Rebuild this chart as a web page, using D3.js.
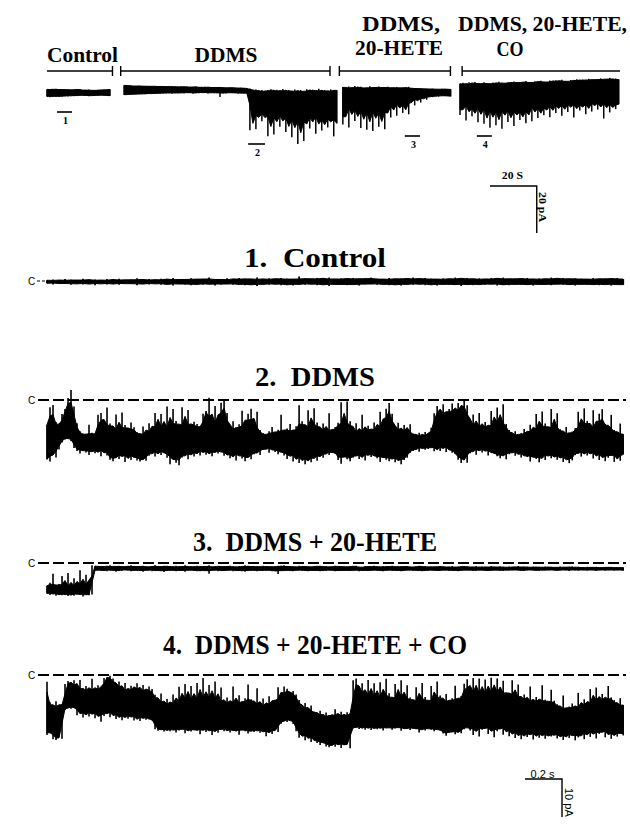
<!DOCTYPE html>
<html><head><meta charset="utf-8">
<script src="https://cdn.jsdelivr.net/npm/d3@7"></script>
<style>html,body{margin:0;padding:0;background:#fff}svg{display:block}</style>
</head><body>
<svg id="fig" width="630" height="825"></svg>
<script>
// ---------------- DATA ----------------
const topLabels = [["Control"], ["DDMS"], ["DDMS,", "20-HETE"], ["DDMS, 20-HETE,", "CO"]];
const segStart = [0, 33, 126.5, 176.6];
const topDt = 1.28;
const bracketRanges = [[0, 28], [31.5, 121], [125, 172.5], [177.5, 245]];
const markerRanges = [[4.3, 10.7], [86, 93.2], [153, 159.5], [183.8, 190.2]];
const markerNames = ["1", "2", "3", "4"];
const topScaleBar = {t: 189.4, sec: 20, pA: 20};

const ctrlTop = [0.6,0.4,0.7,0.3,0.5,0.8,0.4,0.6,0.9,0.5,
  0.7,0.4,0.8,1.0,0.6,0.9,1.1,0.7,0.9,0.6,
  0.8,0.5];
const ctrlBot = [3.6,3.9,3.4,3.8,3.5,3.7,3.3,3.6,3.2,3.5,
  3.1,3.4,3.0,3.3,3.5,3.1,3.4,3.2,3.0,3.3,
  3.1,3.4];
const ddmsTop = [-1.2,-1.0,-1.1,-0.9,-0.8,-1.0,-0.9,-0.7,-0.8,-0.9,
  -0.6,-0.9,-0.7,-0.6,-0.8,-0.5,-0.7,-0.6,-0.4,-0.7,
  -0.5,-0.6,-0.3,-0.5,-0.6,-0.4,-0.2,-0.5,-0.3,-0.4,
  -0.1,-0.3,-0.4,-0.2,0.0,-0.3,-0.1,-0.2,0.1,-0.1,
  0.0,0.2,0.2,1.0,0.6,1.4,0.8,1.6,0.9,0.5,
  1.2,0.7,1.5,0.4,1.1,0.8,1.7,0.6,1.3,0.9,
  1.8,0.5,1.0,0.7,1.4,0.3,1.2,0.8,1.6,0.6,
  1.1,0.9];
const ddmsBot = [3.0,2.7,2.9,2.6,2.8,2.5,2.7,2.4,2.6,2.3,
  2.5,2.2,2.4,2.1,2.3,2.0,2.4,2.1,2.2,2.0,
  2.3,1.9,2.1,2.4,2.0,2.2,1.8,2.1,2.3,1.9,
  2.2,2.0,3.8,2.1,2.3,1.9,2.2,2.0,2.4,2.1,
  2.3,2.2,18.0,12.5,17.6,10.8,14.2,11.0,20.5,13.0,
  19.8,12.2,16.5,11.5,18.7,14.0,21.0,12.8,23.8,15.5,
  22.6,13.4,17.2,11.8,19.5,12.6,18.1,14.5,16.8,12.0,
  20.6,15.0];
const heteTop = [-0.4,-0.1,-0.6,0.2,-0.8,-0.3,-0.5,0.1,-0.2,-0.7,
  0.0,-0.4,-0.6,-0.1,-0.3,-0.5,0.0,-0.2,-0.4,0.1,
  -0.3,-0.1,-0.5,0.2,0.0,0.3,0.1,0.4,0.2,0.5,
  0.3,0.4,0.6,0.3,0.5,0.4,0.6];
const heteBot = [15.5,9.0,16.8,8.5,14.0,10.2,17.0,9.6,17.8,11.0,
  18.3,9.2,16.5,12.0,17.6,8.8,12.5,7.0,11.8,6.5,
  10.6,8.0,11.2,5.0,7.4,4.6,6.2,4.2,5.0,3.6,
  3.9,3.4,3.7,3.2,3.5,3.3,3.6];
const coTop = [-1.8,-2.2,-1.5,-2.4,-1.9,-2.6,-2.0,-1.7,-2.5,-2.1,
  -1.6,-2.3,-2.0,-2.7,-2.2,-1.9,-2.5,-2.3,-2.8,-2.1,
  -2.6,-2.4,-3.0,-2.5,-2.2,-2.9,-2.6,-3.1,-2.7,-2.4,
  -3.2,-2.8,-3.3,-2.9,-3.5,-3.0,-2.7,-3.4,-3.1,-3.7,
  -3.2,-3.6,-3.3,-3.9,-3.4,-3.8,-3.5,-4.1,-3.6,-3.9,
  -4.3,-3.7,-4.0,-3.6];
const coBot = [11.5,7.0,13.8,8.2,12.0,9.5,14.6,7.8,15.2,10.4,
  16.9,9.0,15.8,11.2,17.3,8.6,14.5,10.8,16.2,9.4,
  13.6,11.0,15.0,8.8,14.2,7.6,12.8,9.8,11.6,7.2,
  12.4,8.4,10.6,6.8,11.8,7.9,10.2,6.2,12.6,8.0,
  9.6,6.6,11.2,7.4,10.0,5.8,9.2,7.0,13.0,6.4,
  10.4,7.6,9.0,6.9];

const traceTitles = ["1.  Control", "2.  DDMS", "3.  DDMS + 20-HETE", "4.  DDMS + 20-HETE + CO"];
const dtFine = 0.0162;
const dtCoarse = 0.0324;
const bottomScaleBar = {t: 2.58, sec: 0.2, pA: 10};

const t1Top = [-0.2,-0.4,-0.1,-0.5,-0.3,-0.2,-0.6,-0.3,-0.4,-0.1,
  -0.5,-0.3,-0.6,-0.2,-0.4,-0.7,-0.3,-0.5,-0.2,-0.6,
  -0.4,-0.8,-0.3,-0.5,-0.7,-0.4,-0.6,-0.9,-0.5,-0.3,
  -0.7,-0.4,-0.8,-0.6,-0.5,-0.9,-0.4,-0.7,-0.5,-0.8,
  -0.6,-0.4,-1.2,-0.7,-0.5,-0.8,-0.6,-0.9,-0.4,-0.7,
  -0.6,-0.8,-0.5,-0.7,-0.9,-0.6,-0.4,-0.8,-0.5,-0.7,
  -0.6,-0.9,-0.5,-0.8,-0.6,-0.4,-0.7,-0.5,-0.9,-0.6,
  -0.8,-0.5,-0.7,-0.4,-0.8,-0.6,-0.9,-0.5,-0.7,-0.6,
  -0.8,-0.4,-0.7,-0.5,-0.9,-0.6,-0.8,-0.5,-0.7,-0.6,
  -0.4,-0.8,-0.5,-0.7,-0.6,-0.8,-0.5];
const t1Bot = [0.6,0.9,0.5,0.8,1.0,0.6,0.9,0.7,1.1,0.6,
  0.9,0.7,1.0,0.6,0.8,1.1,0.7,0.9,0.6,1.0,
  0.8,1.2,0.7,0.9,1.1,0.8,1.0,0.7,1.2,0.9,
  0.7,1.0,0.8,1.1,0.9,1.3,0.8,1.0,0.7,1.1,
  0.9,1.2,0.8,1.0,0.7,1.1,0.9,1.3,0.8,1.0,
  1.1,0.8,1.2,0.9,0.7,1.0,0.8,1.1,0.9,1.2,
  0.8,1.0,0.7,1.1,0.9,1.2,0.8,1.0,0.9,1.3,
  0.8,1.1,0.9,1.0,0.7,1.2,0.9,1.1,0.8,1.0,
  0.9,1.2,0.8,1.0,1.1,0.7,1.0,0.9,1.2,0.8,
  1.0,0.9,1.1,0.8,1.2,0.9,1.0];

const t2Top = [6.5,1.9,1.3,5.8,6.9,3.7,2.4,-0.5,-2.6,1.7,
  6.1,8.2,8.9,9.1,6.5,8.6,9.2,3.9,3.4,6.8,
  2.0,6.2,7.5,3.8,7.9,3.3,6.6,8.1,5.9,7.2,
  8.4,9.3,7.0,8.8,6.1,7.7,3.4,6.4,3.7,7.6,
  1.7,6.8,2.4,5.5,7.2,1.9,6.0,2.6,6.9,5.7,
  6.3,7.8,3.6,2.9,-0.6,5.8,1.6,6.2,0.7,-0.2,
  3.4,7.3,5.6,8.1,6.4,2.8,7.0,3.6,2.3,6.6,
  3.1,7.9,8.7,9.4,8.2,7.1,9.0,7.8,3.9,8.3,
  7.5,6.3,8.9,6.9,1.4,5.6,7.4,2.7,6.7,2.2,
  5.9,8.0,6.2,7.7,3.5,8.4,7.1,6.0,0.6,6.4,
  0.4,5.6,7.8,6.1,8.9,3.9,7.3,6.8,8.5,5.9,
  7.0,3.1,6.9,2.3,0.8,3.6,7.4,6.0,8.2,6.6,
  7.9,6.4,8.8,9.3,8.6,9.5,8.4,9.1,7.3,3.5,
  1.6,3.2,1.1,3.8,2.4,0.9,3.3,0.8,2.1,-0.2,
  1.4,6.1,3.8,7.2,3.4,6.7,5.8,7.5,2.9,6.0,
  2.0,5.7,1.1,6.3,7.9,9.0,8.2,9.4,8.7,7.6,
  8.9,6.5,7.8,3.7,7.4,3.0,6.2,7.9,2.4,6.6,
  3.5,7.7,8.6,7.1,9.0,8.3,7.4,3.1,6.8,2.2,
  5.5,6.9,2.7,7.6,3.6,2.4,6.3,7.0,3.9,7.9,
  8.8,6.2,9.0];
const t2Bot = [15.6,16.2,13.9,15.1,13.0,11.2,10.4,9.9,10.8,12.6,
  13.4,14.1,12.9,13.8,14.5,13.2,14.0,13.5,14.8,13.1,
  14.6,15.7,16.1,14.9,15.5,14.2,16.3,15.0,15.8,14.4,
  15.9,16.2,15.4,16.0,14.7,13.6,14.9,13.8,14.5,13.3,
  15.2,16.9,14.8,16.5,17.2,15.1,14.3,15.6,14.0,14.9,
  13.7,14.6,13.2,14.4,13.9,14.8,13.5,14.1,13.3,14.7,
  14.2,15.3,14.6,15.9,14.0,15.4,16.1,14.7,15.6,14.3,
  13.6,14.5,13.1,12.8,13.9,12.6,13.7,14.3,13.2,14.6,
  15.5,14.1,16.2,15.0,16.6,15.3,16.9,15.7,16.4,14.8,
  16.0,14.6,15.2,13.9,14.5,13.5,14.2,15.8,16.8,14.4,
  15.6,16.1,15.2,14.3,15.5,14.7,15.9,14.1,15.0,14.4,
  15.3,16.3,14.6,15.7,16.1,15.0,16.4,15.5,16.9,15.8,
  15.2,13.9,13.4,12.7,13.6,12.4,13.1,12.9,12.2,13.5,
  12.8,13.4,12.1,13.7,12.6,13.9,14.2,15.7,16.6,15.1,
  16.5,14.0,13.2,14.4,12.9,13.8,13.1,14.6,13.5,14.2,
  14.8,15.3,14.1,15.6,14.3,13.5,14.7,13.9,15.1,14.4,
  15.0,16.2,14.6,15.5,16.4,14.9,15.8,14.2,15.3,14.7,
  15.7,14.8,16.3,15.2,16.6,15.9,14.5,13.6,14.9,13.8,
  14.6,13.7,15.4,14.1,15.8,14.5,16.1,15.2,14.0,16.3,
  15.1,16.0,14.3];

const t3Top = [6.0,5.2,2.8,6.1,5.5,3.4,5.8,2.6,6.2,4.0,
  5.7,1.9,5.4,3.1,5.9,0.6,0.9,0.7,1.0,0.8,
  0.9,0.6,1.0,0.8,0.7,1.1,0.8,0.9,0.6,1.0,
  0.8,1.0,0.7,0.9,1.1,0.8,0.6,0.9,1.0,0.7,
  0.9,0.8,1.1,0.7,1.0,0.9,0.6,1.0,0.8,1.1,
  0.7,0.9,1.0,0.8,0.6,1.1,0.9,0.7,1.0,0.8,
  1.0,0.7,0.9,1.1,0.8,1.0,0.6,0.9,0.8,1.0,
  0.8,1.1,0.7,0.9,1.0,0.8,1.1,0.7,0.9,0.6,
  1.0,0.8,0.9,1.1,0.7,1.0,0.8,0.9,1.1,0.8,
  0.9,0.7,1.0,0.8,1.1,0.9,0.7,1.0,0.8,0.9,
  1.1,0.8,0.9,0.7,1.0,1.2,0.8,0.9,1.0,0.7,
  0.9,1.1,0.8,1.0,0.9,0.7,1.1,0.8,1.0,0.9,
  0.8,1.0,1.1,0.9,0.7,1.0,0.8,1.1,0.9,1.0,
  1.0,0.8,0.9,1.1,1.0,0.8,1.2,0.9,1.0,0.8,
  0.9,1.1,1.0,0.8,1.2,0.9,1.0,1.1,0.8,1.0,
  1.1,0.9,1.0,1.2,0.9,1.1,1.0,0.8,1.1,1.0,
  1.0,1.2,0.9,1.1,1.0,1.2,0.9,1.1,1.0,1.2,
  1.1,0.9,1.2,1.0,1.1,0.9,1.2,1.0,1.1,1.3,
  1.0,1.2,1.1,1.0,1.3,1.1,1.2,1.0,1.2,1.1,
  1.3,1.1,1.2];
const t3Bot = [8.0,8.4,7.9,8.6,8.2,8.5,8.1,8.7,8.3,8.6,
  8.0,8.4,8.8,8.2,8.5,8.3,2.0,1.8,2.1,1.9,
  2.2,1.8,2.0,2.3,1.9,2.1,1.7,2.0,2.2,1.8,
  2.1,1.9,2.3,2.0,1.8,2.2,1.9,2.1,2.0,2.4,
  1.9,2.1,1.8,2.2,2.0,1.9,2.3,2.0,1.8,2.1,
  2.0,2.2,1.9,2.1,2.8,2.0,1.8,2.2,1.9,2.1,
  2.0,1.8,2.2,1.9,2.1,2.0,2.3,1.9,2.1,1.8,
  2.2,2.0,1.9,2.1,1.8,2.2,2.0,2.9,2.1,1.9,
  2.1,1.9,2.2,2.0,1.8,2.1,1.9,2.2,2.0,1.9,
  2.0,2.2,1.9,2.1,1.8,2.0,2.2,1.9,2.1,2.0,
  1.9,2.1,2.0,1.8,2.2,2.0,1.9,2.1,2.0,1.8,
  2.1,1.9,2.2,2.0,1.8,2.1,1.9,2.0,2.2,1.9,
  2.0,1.8,2.1,1.9,2.0,2.2,1.9,2.1,1.8,2.0,
  2.1,1.9,2.0,1.8,2.1,1.9,2.0,2.2,1.9,2.0,
  1.8,2.0,1.9,2.1,1.8,2.0,1.9,2.1,2.0,1.8,
  2.0,1.9,2.1,1.8,2.0,1.9,1.8,2.0,1.9,2.1,
  1.9,1.8,2.0,1.9,2.1,1.8,2.0,1.9,1.8,2.0,
  1.9,2.0,1.8,1.9,2.1,1.8,1.9,2.0,1.8,1.9,
  2.0,1.8,1.9,2.1,1.9,1.8,2.0,1.9,1.8,2.0,
  1.9,1.8,2.0];

const t4Top = [1.8,7.2,8.5,6.9,8.1,7.6,2.4,1.6,2.2,1.4,
  3.1,1.3,4.2,2.9,3.8,1.0,4.0,2.7,3.5,0.8,
  0.6,0.2,0.9,2.5,1.7,3.6,2.1,4.3,2.8,3.4,
  2.2,3.9,2.6,4.4,3.0,3.7,5.2,6.8,4.9,7.4,
  6.3,7.9,5.1,7.0,3.1,6.5,2.4,5.8,2.9,6.9,
  2.1,5.5,0.8,6.2,2.6,5.7,1.7,6.6,3.3,7.1,
  5.9,7.6,3.0,6.8,5.3,7.9,6.1,2.5,6.4,7.3,
  3.5,7.8,6.2,8.4,5.6,7.0,6.5,3.2,5.9,3.0,
  3.6,4.8,4.2,5.1,6.6,8.3,7.4,9.1,8.0,9.6,
  10.2,9.4,10.8,9.9,11.0,10.3,9.0,10.6,9.7,10.9,
  9.8,10.5,1.4,0.9,3.6,2.2,5.5,1.3,4.9,2.2,
  6.1,1.9,5.6,1.0,4.8,6.9,2.4,5.2,1.4,6.3,
  2.7,5.9,7.1,3.2,6.4,2.1,5.8,7.5,2.9,6.0,
  1.7,5.4,6.8,5.0,7.2,6.1,2.8,6.7,5.5,2.3,
  1.1,4.4,0.8,4.5,0.9,4.9,1.2,4.6,0.7,4.3,
  0.9,4.8,1.5,4.6,4.9,1.4,5.3,2.5,6.2,5.1,
  6.6,3.0,7.0,5.8,6.9,2.7,6.5,7.3,3.9,6.8,
  7.7,8.6,5.4,9.0,8.3,7.5,8.8,4.7,8.1,6.4,
  7.6,3.7,6.9,3.3,6.3,5.0,6.7,2.9,5.9,6.6,
  8.0,6.1,7.9];
const t4Bot = [15.8,14.6,16.9,17.1,16.3,16.8,9.2,8.5,8.9,8.3,
  10.6,9.8,11.2,10.1,10.9,9.7,11.4,10.4,12.3,10.8,
  9.5,11.1,10.2,11.6,10.7,11.9,10.9,11.5,10.6,12.0,
  11.3,12.1,11.0,11.8,11.4,12.0,14.3,14.7,14.1,14.9,
  14.4,14.8,14.2,15.1,14.6,14.0,15.3,14.5,14.9,14.2,
  14.7,15.6,14.1,15.0,14.4,15.8,14.6,15.2,13.9,14.8,
  14.5,15.1,14.3,14.9,15.7,14.2,14.8,15.4,14.6,15.0,
  14.4,15.2,14.7,16.1,14.9,15.5,14.3,15.0,12.8,11.9,
  12.4,11.6,12.9,14.8,16.5,15.7,17.2,16.1,17.6,16.8,
  17.9,18.4,17.3,18.8,19.0,18.2,18.9,17.8,19.2,18.5,
  18.1,19.3,14.1,13.5,14.2,13.8,14.4,13.6,14.5,13.9,
  14.3,13.7,14.6,14.0,13.8,14.4,14.1,13.6,14.7,14.2,
  14.0,14.5,13.8,14.3,15.1,14.2,14.6,13.9,14.4,14.8,
  14.1,14.7,15.4,16.0,15.2,14.8,15.6,14.9,15.3,14.3,
  13.5,14.6,15.8,13.9,16.2,14.4,13.7,15.5,14.1,16.4,
  14.8,13.6,15.7,14.2,16.1,15.0,16.6,15.3,16.9,15.8,
  16.3,15.1,17.0,15.7,16.5,15.4,16.8,15.9,16.2,15.5,
  16.7,15.8,17.1,16.0,16.6,15.3,17.2,16.4,15.6,16.9,
  15.2,16.3,14.8,16.7,15.5,14.6,16.4,15.0,16.8,15.7,
  16.2,14.9,15.9];

// ---------------- DRAW ----------------
const svg = d3.select("#fig");
const SERIF = "'Liberation Serif','Times New Roman','DejaVu Serif','Noto Serif',serif";
const SANS = "'Liberation Sans',Arial,sans-serif";

// body = inner envelope of neighbouring samples, needles = each sample's full extent
function drawEnv(top, bot, t0, dt, x, y, needleW) {
  const n = top.length;
  const pts = top.map((v, i) => {
    const a = Math.max(0, i - 1), b = Math.min(n - 1, i + 1);
    const tt = [top[a], top[i], top[b]], bb = [bot[a], bot[i], bot[b]];
    let hi = (d3.median(tt) + d3.max(tt)) / 2;
    let lo = (d3.median(bb) + d3.min(bb)) / 2;
    if (hi > lo) { const m = (hi + lo) / 2; hi = m; lo = m; }
    return {t: t0 + i * dt, hi, lo, vHi: v, vLo: bot[i]};
  });
  const g = svg.append("g");
  g.append("path").datum(pts)
    .attr("d", d3.area().x(d => x(d.t)).y0(d => y(d.lo)).y1(d => y(d.hi)))
    .attr("fill", "#000").attr("stroke", "#000").attr("stroke-width", 1)
    .attr("stroke-linejoin", "round");
  g.selectAll("line").data(pts).join("line")
    .attr("x1", d => x(d.t)).attr("x2", d => x(d.t))
    .attr("y1", d => y(d.vHi)).attr("y2", d => y(d.vLo))
    .attr("stroke", "#000").attr("stroke-width", needleW);
}

function label(txt, x, y, size, width, anchor) {
  const t = svg.append("text").attr("x", x).attr("y", y)
    .attr("font-family", SERIF).attr("font-weight", "bold").attr("font-size", size)
    .attr("text-anchor", anchor || "start").attr("xml:space", "preserve")
    .style("white-space", "pre").text(txt);
  if (width) t.attr("textLength", width).attr("lengthAdjust", "spacingAndGlyphs");
  return t;
}

// ---- top compressed record ----
const xTop = d3.scaleLinear().domain([0, 245]).range([47, 620]);
const yTop = d3.scaleLinear().domain([0, 20]).range([88, 135]);
const topSeries = [[ctrlTop, ctrlBot], [ddmsTop, ddmsBot], [heteTop, heteBot], [coTop, coBot]];
topSeries.forEach((s, k) => drawEnv(s[0], s[1], segStart[k], topDt, xTop, yTop, 1.5));

label(topLabels[0][0], 47, 62, 22, 71);
label(topLabels[1][0], 226, 62, 22, 63, "middle");
label(topLabels[2][0], 362, 31, 22, 78);
label(topLabels[2][1], 355, 55, 22, 88);
label(topLabels[3][0], 458, 31, 22, 169);
label(topLabels[3][1], 510, 56, 22, 27, "middle");

const bY = 71;
const tickSides = [[false, true], [true, true], [true, true], [true, false]];
bracketRanges.forEach((r, k) => {
  svg.append("line").attr("x1", xTop(r[0])).attr("x2", xTop(r[1])).attr("y1", bY).attr("y2", bY)
    .attr("stroke", "#000").attr("stroke-width", 1.6);
  [0, 1].forEach(s => {
    if (tickSides[k][s]) svg.append("line").attr("x1", xTop(r[s])).attr("x2", xTop(r[s]))
      .attr("y1", bY - 5).attr("y2", bY + 5).attr("stroke", "#000").attr("stroke-width", 1.4);
  });
});

const markerY = [112, 144, 136, 136];
markerRanges.forEach((r, k) => {
  svg.append("line").attr("x1", xTop(r[0])).attr("x2", xTop(r[1]))
    .attr("y1", markerY[k]).attr("y2", markerY[k]).attr("stroke", "#000").attr("stroke-width", 1.6);
  label(markerNames[k], (xTop(r[0]) + xTop(r[1])) / 2 + 1, markerY[k] + 12, 10, null, "middle");
});

{
  const x0 = xTop(topScaleBar.t), x1 = xTop(topScaleBar.t + topScaleBar.sec);
  const y0 = 186, y1 = y0 + (yTop(topScaleBar.pA) - yTop(0));
  svg.append("path").attr("d", `M${x0},${y0}H${x1}V${y1}`).attr("fill", "none")
    .attr("stroke", "#000").attr("stroke-width", 1.4);
  label("20 S", (x0 + x1) / 2 - 1, y0 - 7, 10, 21, "middle");
  svg.append("text").attr("transform", `translate(${x1 + 2},${y0 + 6}) rotate(90)`)
    .attr("font-family", SERIF).attr("font-weight", "bold").attr("font-size", 11)
    .attr("textLength", 30).attr("lengthAdjust", "spacingAndGlyphs").text("20 pA");
}

// ---- expanded traces ----
const x2 = d3.scaleLinear().domain([0, 3.12]).range([47, 625]);
const baseY = [281, 400, 563, 675];
const titleY = [267, 386, 551, 654];
const titleW = [142, 120, 244, 304];
const traces = [[t1Top, t1Bot, dtCoarse], [t2Top, t2Bot, dtFine], [t3Top, t3Bot, dtFine], [t4Top, t4Bot, dtFine]];

traces.forEach((tr, k) => {
  const y = d3.scaleLinear().domain([0, 20]).range([baseY[k], baseY[k] + 76]);
  label(traceTitles[k], 315, titleY[k], 28, titleW[k], "middle");
  svg.append("text").attr("x", 28).attr("y", y(0) + 3.5).attr("font-family", SANS)
    .attr("font-size", 10).text("C");
  if (k === 0) {
    svg.append("line").attr("x1", 37).attr("x2", 45).attr("y1", y(0)).attr("y2", y(0))
      .attr("stroke", "#000").attr("stroke-width", 1).attr("stroke-dasharray", "3,2");
  } else {
    svg.append("line").attr("x1", 38).attr("x2", 626).attr("y1", y(0)).attr("y2", y(0))
      .attr("stroke", "#000").attr("stroke-width", 2.2).attr("stroke-dasharray", "11,4");
  }
  drawEnv(tr[0], tr[1], 0, tr[2], x2, y, k === 0 ? 1.8 : 1.6);
});

{
  const yb = d3.scaleLinear().domain([0, 20]).range([0, 76]);
  const x0 = x2(bottomScaleBar.t), x1 = x2(bottomScaleBar.t + bottomScaleBar.sec);
  const y0 = 779, y1 = y0 + yb(bottomScaleBar.pA);
  svg.append("path").attr("d", `M${x0},${y0}H${x1}V${y1}`).attr("fill", "none")
    .attr("stroke", "#000").attr("stroke-width", 1.4);
  svg.append("text").attr("x", (x0 + x1) / 2 - 1).attr("y", y0 - 1).attr("text-anchor", "middle")
    .attr("font-family", SANS).attr("font-size", 11).text("0.2 s");
  svg.append("text").attr("transform", `translate(${x1 + 3},${y0 + 9}) rotate(90)`)
    .attr("font-family", SANS).attr("font-size", 11).text("10 pA");
}
</script>
</body></html>
